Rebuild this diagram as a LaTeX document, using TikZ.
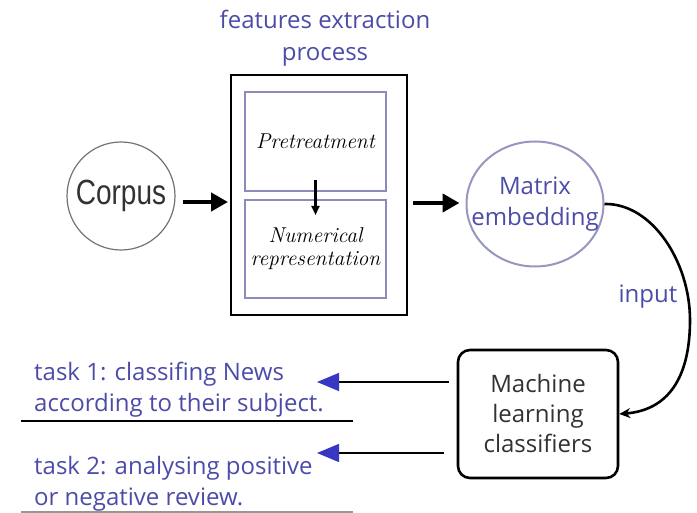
\documentclass[tikz,border=0pt]{standalone}
\usepackage{fontspec}
\setmainfont{Open Sans}
\newfontfamily\corpusfont{Liberation Sans}
\newfontfamily\stepfont{Latin Modern Roman}
\usetikzlibrary{arrows.meta,calc,shapes.geometric}

\definecolor{textblue}{RGB}{76,76,168}
\definecolor{headblue}{RGB}{55,55,195}
\definecolor{framelav}{RGB}{140,140,188}
\definecolor{circgray}{RGB}{115,115,115}
\definecolor{circlav}{RGB}{150,150,192}
\definecolor{darktext}{RGB}{50,50,50}
\definecolor{rulegray}{RGB}{150,150,150}

\tikzset{
  bluetext/.style={text=textblue, font=\fontsize{24}{31}\selectfont},
  innerbox/.style={draw=framelav, line width=2.2pt, minimum width=141pt,
    inner sep=0pt, outer sep=0pt, align=center,
    font=\stepfont\itshape\fontsize{21.5}{23}\selectfont},
  bigarrow/.style={line width=4.5pt, -{Triangle[length=17pt,width=18pt]}},
  taskarrow/.style={line width=1.4pt, -{Triangle[length=22pt,width=18pt,color=headblue]}},
}

\begin{document}
\begin{tikzpicture}[x=1pt,y=-1pt]
\useasboundingbox (0,0) rectangle (697,513);

% title of the extraction stage
\node[text=textblue, align=center, font=\fontsize{24}{32}\selectfont] (title) at (325,38)
  {features extraction\\process};

% extraction frame with its two steps
\node[draw, line width=1.4pt, minimum width=176pt, minimum height=240pt,
      inner sep=0pt, outer sep=0pt] (fe) at (319,195) {};
\node[innerbox, minimum height=99pt] (pre) at (315.5,141.5) {Pretreatment};
\node[innerbox, minimum height=98pt] (num) at (315.5,249)
  {Numerical\\representation};
\draw[line width=2.2pt, -{Triangle[length=9pt,width=8pt]}]
  ($(pre.south)+(0,-11)$) -- ($(num.north)+(0,15)$);

% corpus input
\node[circle, draw=circgray, line width=1.2pt, minimum size=108pt, inner sep=0pt]
  (corpus) at (121,196)
  {\corpusfont\fontsize{35}{35}\selectfont\color{darktext}\scalebox{0.8}[1]{Corpus}};

% embedding matrix: outline and its label
\node[ellipse, draw=circlav, line width=2pt, minimum width=137pt, minimum height=125pt,
      inner sep=0pt] (mat) at (535,204) {};
\node[bluetext, align=center, inner sep=0pt] (matlbl) at (mat.center) {Matrix\\embedding};

% classifiers
\node[draw, line width=2.6pt, rounded corners=12pt, minimum width=160pt,
      minimum height=128pt, align=center, text=darktext,
      font=\fontsize{24}{30}\selectfont] (ml) at (538,414)
  {Machine\\learning\\classifiers};

% main flow arrows
\draw[bigarrow] ($(corpus.east)+(7,6)$) -- ($(corpus.east -| fe.west)+(-3,6)$);
\draw[bigarrow] ($(fe.east)+(6,8)$) -- ($(fe.east -| mat.west)+(-6,8)$);

% curved input arrow
\coordinate (bend) at (690,320);
\draw[line width=2.6pt, -{Stealth[length=11pt,width=10pt]}]
  (mat.east) .. controls (652,203) and (690,262) .. (bend)
  .. controls (690,378) and (668,410) .. (ml.east);
\node[bluetext] (inp) at (648,297) {input};

% tasks
\node[bluetext, anchor=west, align=left, inner sep=0pt] (task1) at (34,390)
  {task 1: classifing News\\according to their subject.};
\node[bluetext, anchor=west, align=left, inner sep=0pt] (task2) at (34,484)
  {task 2: analysing positive\\or negative review.};

\coordinate (tip1) at (317,382);
\coordinate (tip2) at (317,453);
\draw[taskarrow] ($(ml.west)+(-8,-32)$) -- (tip1);
\draw[taskarrow] ($(ml.west)+(-13,39)$) -- (tip2);

% rules under the task texts
\coordinate (u1a) at (21,421);
\coordinate (u1b) at (353,421);
\coordinate (u2a) at (21,512);
\coordinate (u2b) at (353,512);
\draw[line width=1.4pt] (u1a) -- (u1b);
\draw[line width=1.4pt, draw=rulegray] (u2a) -- (u2b);
\end{tikzpicture}
\end{document}
